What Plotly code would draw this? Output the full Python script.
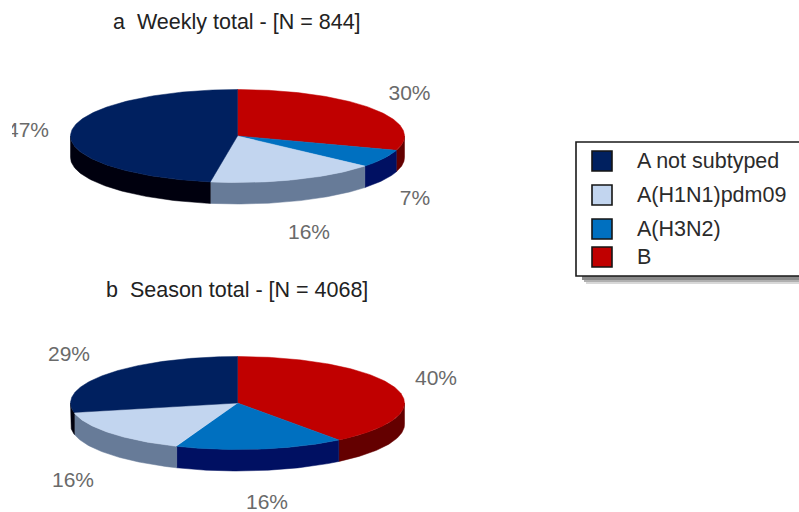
import numpy as np
import plotly.graph_objects as go

# ---- data (clockwise from 12 o'clock) ----
categories = ["B", "A(H3N2)", "A(H1N1)pdm09", "A not subtyped"]
weekly_values = [30, 6.2, 16.4, 47.4]
weekly_labels = ["30%", "7%", "16%", "47%"]
season_values = [40.1, 16.5, 15.8, 28.8]
season_labels = ["40%", "16%", "16%", "29%"]
legend_order = ["A not subtyped", "A(H1N1)pdm09", "A(H3N2)", "B"]
weekly_title = "a  Weekly total - [N = 844]"
season_title = "b  Season total - [N = 4068]"

# ---- styles ----
TOP = {"B": "#C00000", "A(H3N2)": "#0070C0", "A(H1N1)pdm09": "#C2D5EF", "A not subtyped": "#00205F"}
SIDE = {"B": "#640000", "A(H3N2)": "#001062", "A(H1N1)pdm09": "#677B98", "A not subtyped": "#00000E"}
FONT = "Liberation Sans, Arial, sans-serif"
LABEL_GREY = "#6a6a6a"
RX, RY, DEPTH = 167, 46.5, 21.5

fig = go.Figure()


def pie3d(values, cx, cy):
    total = sum(values)
    edges = np.concatenate([[0], np.cumsum(values)]) / total * 2 * np.pi
    # side walls first: only the front half (90..270 deg clockwise from top) is visible
    for cat, a0, a1 in zip(categories, edges[:-1], edges[1:]):
        lo, hi = max(a0, np.pi / 2), min(a1, 3 * np.pi / 2)
        if hi <= lo:
            continue
        t = np.linspace(lo, hi, 80)
        x = cx + RX * np.sin(t)
        y = cy - RY * np.cos(t)
        xs = np.concatenate([x, x[::-1], x[:1]])
        ys = np.concatenate([y, y[::-1] + DEPTH, y[:1]])
        fig.add_trace(go.Scatter(x=xs, y=ys, mode="lines", fill="toself", fillcolor=SIDE[cat],
                                 line=dict(color=SIDE[cat], width=0.5), name=cat,
                                 showlegend=False, hoverinfo="skip"))
    # top faces
    for cat, a0, a1 in zip(categories, edges[:-1], edges[1:]):
        t = np.linspace(a0, a1, 160)
        xs = np.concatenate([[cx], cx + RX * np.sin(t), [cx]])
        ys = np.concatenate([[cy], cy - RY * np.cos(t), [cy]])
        fig.add_trace(go.Scatter(x=xs, y=ys, mode="lines", fill="toself", fillcolor=TOP[cat],
                                 line=dict(color=TOP[cat], width=0.5), name=cat,
                                 showlegend=False, hoverinfo="skip"))


pie3d(weekly_values, 237.5, 136)
pie3d(season_values, 237.5, 403)

# percentage labels (text nodes are clipped at the plot's left edge, as in the reference)
fig.add_trace(go.Scatter(
    x=[409.5, 415, 309, 28], y=[95, 200, 234, 132], text=weekly_labels,
    mode="text", textposition="middle center", cliponaxis=True,
    textfont=dict(family=FONT, size=21, color=LABEL_GREY), showlegend=False, hoverinfo="skip"))
fig.add_trace(go.Scatter(
    x=[436, 267, 73, 69], y=[380, 504, 482, 356], text=season_labels,
    mode="text", textposition="middle center", cliponaxis=True,
    textfont=dict(family=FONT, size=21, color=LABEL_GREY), showlegend=False, hoverinfo="skip"))

# legend frame with soft shadow
shapes = []
for off, col in [(8, "#d8d8d8"), (6, "#b0b0b0"), (4, "#8a8a8a")]:
    shapes.append(dict(type="rect", xref="x", yref="y", x0=576 + off + 2, x1=830, y0=150, y1=276 + off,
                       fillcolor=col, line=dict(width=0), layer="below"))
shapes.append(dict(type="rect", xref="x", yref="y", x0=576, x1=830, y0=142, y1=276,
                   fillcolor="white", line=dict(color="#1a1a1a", width=1.6), layer="below"))

# legend swatches and entries
legend_y = [161, 195, 229, 257]
for name, y in zip(legend_order, legend_y):
    fig.add_trace(go.Scatter(x=[602], y=[y], mode="markers", name=name, showlegend=False, hoverinfo="skip",
                             marker=dict(symbol="square", size=20, color=TOP[name],
                                         line=dict(color="#141414", width=1.6))))

annotations = [
    dict(x=635, y=y, text=name, xref="x", yref="y", xanchor="left", yanchor="middle", showarrow=False,
         font=dict(family=FONT, size=21.5, color="#2b2b2b"))
    for name, y in zip(legend_order, legend_y)
]
annotations += [
    dict(x=237, y=22, text=weekly_title, xref="x", yref="y", xanchor="center", yanchor="middle",
         showarrow=False, font=dict(family=FONT, size=21.5, color="#222222")),
    dict(x=237, y=290, text=season_title, xref="x", yref="y", xanchor="center", yanchor="middle",
         showarrow=False, font=dict(family=FONT, size=21.5, color="#222222")),
]

fig.update_layout(
    width=799, height=512, autosize=False,
    margin=dict(l=0, r=0, t=0, b=0),
    paper_bgcolor="white", plot_bgcolor="white",
    showlegend=False, shapes=shapes, annotations=annotations,
    xaxis=dict(domain=[12 / 799, 1], range=[12, 799], visible=False, fixedrange=True),
    yaxis=dict(domain=[0, 1], range=[512, 0], visible=False, fixedrange=True),
)

fig.write_html("out.html", config={"displayModeBar": False},
               post_script="document.body.style.margin='0';document.body.style.overflow='hidden';")
